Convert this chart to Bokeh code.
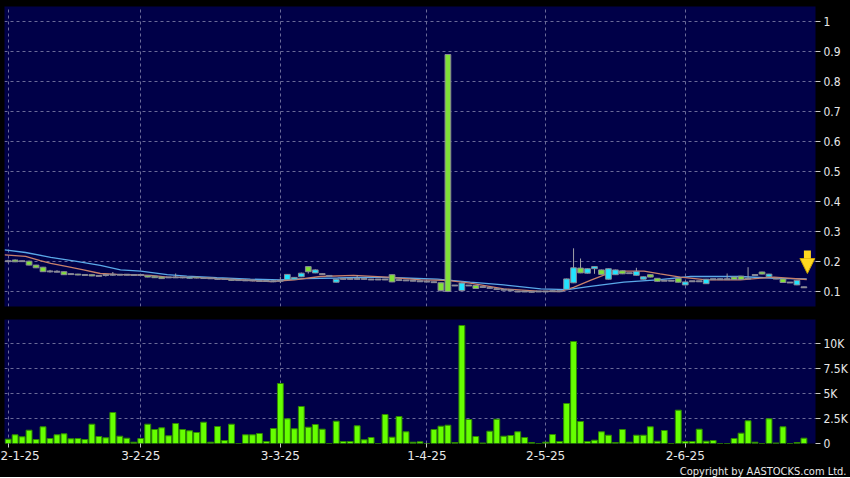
from bokeh.plotting import figure
from bokeh.layouts import column
from bokeh.models import (ColumnDataSource, FixedTicker, CustomJSTickFormatter,
                          Range1d, Title, Arrow, NormalHead)
from bokeh.embed import file_html
from bokeh.resources import INLINE

# ---------------- data ----------------
date_ticks = [0, 19, 39, 60, 77, 97]
date_labels = ["2-1-25", "3-2-25", "3-3-25", "1-4-25", "2-5-25", "2-6-25"]

opens = [.201,.205,.201,.201,.188,.181,.167,.166,.166,.158,.158,.155,.156,.152,.155,.156,.156,.156,.155,.155,
         .153,.151,.148,.147,.147,.147,.144,.148,.145,.144,.142,.142,.140,.138,.137,.137,.135,.135,.134,.136,
         .139,.141,.149,.183,.162,.158,.152,.131,.142,.142,.142,.142,.140,.140,.140,.156,.138,.137,.136,.134,
         .133,.131,.129,.890,.120,.103,.120,.120,.115,.112,.108,.106,.104,.100,.100,.099,.100,.100,.101,.101,
         .107,.129,.178,.161,.176,.172,.141,.156,.169,.161,.154,.141,.156,.144,.136,.136,.144,.122,.134,.134,
         .126,.141,.141,.141,.148,.151,.143,.155,.165,.149,.143,.142,.130,.122,.114]
highs = [.206,.207,.203,.203,.189,.182,.172,.171,.167,.160,.159,.156,.157,.153,.158,.165,.158,.157,.157,.156,
         .154,.152,.150,.148,.160,.148,.149,.149,.147,.145,.144,.143,.142,.139,.140,.138,.137,.136,.137,.148,
         .158,.148,.163,.184,.174,.160,.154,.142,.145,.144,.155,.143,.142,.141,.142,.157,.140,.138,.137,.135,
         .134,.133,.130,.890,.121,.130,.121,.121,.116,.114,.110,.107,.105,.102,.101,.100,.101,.101,.103,.102,
         .143,.244,.210,.177,.184,.173,.177,.173,.170,.162,.179,.150,.157,.145,.137,.137,.145,.133,.135,.135,
         .142,.142,.143,.160,.149,.152,.181,.156,.166,.159,.145,.143,.131,.138,.116]
lows = [.197,.198,.199,.187,.178,.165,.163,.164,.155,.156,.154,.154,.151,.151,.150,.152,.154,.154,.155,.154,
        .147,.145,.142,.145,.145,.144,.143,.144,.143,.143,.140,.141,.136,.137,.135,.134,.132,.134,.131,.128,
        .138,.140,.148,.160,.161,.156,.150,.130,.140,.140,.140,.140,.139,.139,.138,.131,.136,.135,.134,.133,
        .132,.130,.100,.098,.118,.102,.119,.109,.114,.110,.106,.104,.102,.098,.098,.097,.099,.099,.100,.100,
        .106,.128,.161,.160,.159,.157,.140,.155,.158,.160,.153,.140,.147,.133,.135,.135,.130,.121,.133,.133,
        .125,.140,.140,.140,.139,.139,.142,.154,.157,.148,.141,.129,.129,.121,.113]
closes = [.201,.199,.201,.188,.179,.166,.167,.166,.156,.158,.155,.155,.152,.152,.155,.156,.156,.156,.155,.155,
          .148,.146,.143,.147,.147,.147,.148,.145,.145,.144,.142,.142,.137,.138,.137,.137,.135,.135,.134,.136,
          .157,.147,.161,.166,.172,.158,.152,.141,.142,.142,.142,.142,.140,.140,.140,.132,.138,.137,.136,.134,
          .133,.131,.103,.100,.120,.128,.120,.110,.115,.112,.108,.106,.104,.100,.100,.099,.100,.100,.101,.101,
          .142,.179,.162,.176,.183,.157,.176,.172,.159,.161,.167,.149,.148,.134,.136,.136,.131,.132,.134,.134,
          .141,.141,.141,.141,.140,.140,.143,.155,.158,.158,.143,.130,.130,.137,.114]

volume_k = [0.43,0.87,0.67,1.33,0.4,1.67,0.5,0.87,0.97,0.47,0.5,0.4,1.93,0.7,0.57,3.1,0.73,0.53,0.13,0.5,
            1.93,1.4,1.57,0.77,2.0,1.4,1.27,1.1,2.13,0.13,1.7,0.3,1.93,0,0.87,0.87,1.0,0.2,1.5,6.0,
            2.47,1.47,3.7,1.63,1.9,1.43,0,2.23,0.2,0.2,1.77,0.37,0.6,0,2.9,0.63,2.7,1.17,0.13,0.17,
            0,1.4,1.73,1.83,0.1,11.8,2.4,0.7,0.05,1.23,2.43,0.73,0.8,1.17,0.6,0.1,0,0.13,0.9,0.2,
            4.0,10.2,2.2,0.2,0.33,1.17,0.83,0.1,1.4,0.13,0.83,0.83,1.67,0.23,1.3,0,3.33,0.2,0.2,1.43,
            0.23,0.3,0,0,0.5,1.03,2.27,0.13,0,2.47,0.05,1.67,0,0.1,0.53]

ma_fast_x = [-0.5,2.5,4.6,6.1,8.5,10.8,13.2,15.6,20.4,22.8,27.5,32.3,37.6,41,44.7,49.5,54.3,59.1,62.9,66.2,
             71,75.8,79.1,81,83.4,85.8,88.2,91.1,93.4,96.3,100.1,104.9,109.7,114.4]
ma_fast = [.222,.217,.203,.194,.183,.172,.160,.157,.154,.148,.146,.140,.133,.139,.150,.154,.148,.139,.137,.128,
           .109,.101,.100,.114,.137,.159,.168,.168,.159,.148,.139,.139,.148,.140]
ma_slow_x = [-0.5,2.5,6.1,9.6,13.2,16.1,19,22.8,25.6,29.9,34.7,39,42.4,47.2,52,56.7,61.5,66.2,71,76.3,
             80.1,83.4,88.2,93,97.8,104.9,109.7,114.4]
ma_slow = [.239,.230,.214,.201,.187,.172,.168,.156,.151,.146,.141,.139,.143,.145,.148,.145,.141,.131,.122,.109,
           .106,.117,.131,.139,.150,.150,.144,.142]

price_ticks = [0.1, 0.2, 0.3, 0.4, 0.5, 0.6, 0.7, 0.8, 0.9, 1.0]
vol_ticks = [0, 2500, 5000, 7500, 10000]
vol_labels = ["0", "2.5K", "5K", "7.5K", "10K"]

# ---------------- style ----------------
BG = "#000048"
GRID = "#6a6a98"
FONT = "DejaVu Sans"
NARROW = "'DejaVu Sans Condensed', 'Liberation Sans Narrow', 'DejaVu Sans'"
TXT = "#e8e8e8"
UP = "#22e4ff"
DOWN = "#80e038"
DOJI = "#a8a8b0"
WICK = "#a0a0a8"

n = len(closes)
idx = list(range(n))
doji = [abs(o - c) < 0.0005 for o, c in zip(opens, closes)]
body_fill = [DOJI if d else (UP if c > o else DOWN) for o, c, d in zip(opens, closes, doji)]
top = [max(o, c) + (0.0015 if d else 0) for o, c, d in zip(opens, closes, doji)]
bot = [min(o, c) - (0.0015 if d else 0) for o, c, d in zip(opens, closes, doji)]
src = ColumnDataSource(dict(x=idx, o=opens, h=highs, l=lows, c=closes, top=top, bot=bot,
                            fill=body_fill, vol=[v * 1000 for v in volume_k]))

XR = (-0.52, 115.66)

def style_common(p):
    p.outline_line_color = None
    p.ygrid.grid_line_color = GRID
    p.ygrid.grid_line_dash = "3 3"
    p.ygrid.grid_line_width = 1
    p.xgrid.grid_line_color = GRID
    p.xgrid.grid_line_dash = "3 3"
    p.xgrid.ticker = FixedTicker(ticks=date_ticks)
    for ax in p.yaxis:
        ax.axis_line_color = None
        ax.major_tick_line_color = "#c8c8c8"
        ax.major_tick_out = 5
        ax.major_tick_in = 0
        ax.minor_tick_line_color = None
        ax.major_label_text_color = TXT
        ax.major_label_text_font = NARROW
        ax.major_label_text_font_size = "12px"
        ax.major_label_standoff = 3

# ---------------- price panel ----------------
p = figure(frame_width=811, frame_height=300, x_range=Range1d(*XR), y_range=Range1d(0.05, 1.05),
           output_backend="svg", toolbar_location=None, background_fill_color=BG,
           border_fill_color="black", x_axis_location=None, y_axis_location="right",
           min_border_left=4, min_border_top=6, min_border_bottom=13, min_border_right=35)
style_common(p)
p.yaxis.ticker = FixedTicker(ticks=price_ticks)
p.yaxis.formatter = CustomJSTickFormatter(code="return tick.toFixed(1).replace(/\\.0$/, '');")

p.line(ma_slow_x, ma_slow, line_color="#5aa8e8", line_width=1.3)
p.line(ma_fast_x, ma_fast, line_color="#c8806a", line_width=1.3)
p.segment(x0="x", y0="l", x1="x", y1="h", source=src, line_color=WICK, line_width=1)
p.vbar(x="x", top="top", bottom="bot", width=0.82, source=src, fill_color="fill",
       line_color="#8a8a96", line_width=1)

last = n - 1
p.add_layout(Arrow(end=NormalHead(size=15, fill_color="#ffd820", line_color="#c8a000", line_width=1),
                   x_start=last + 0.5, y_start=closes[last] + 0.123, x_end=last + 0.5, y_end=closes[last] + 0.046,
                   line_color="#ffd820", line_width=7))

# ---------------- volume panel ----------------
v = figure(frame_width=811, frame_height=124, x_range=p.x_range, y_range=Range1d(0, 12400),
           output_backend="svg", toolbar_location=None, background_fill_color=BG,
           border_fill_color="black", y_axis_location="right",
           min_border_left=4, min_border_top=0, min_border_bottom=0, min_border_right=35)
style_common(v)
v.yaxis.ticker = FixedTicker(ticks=vol_ticks)
v.yaxis.major_label_overrides = {t: s for t, s in zip(vol_ticks, vol_labels)}
v.xaxis.ticker = FixedTicker(ticks=date_ticks)
v.xaxis.major_label_overrides = {t: s for t, s in zip(date_ticks, date_labels)}
v.xaxis.axis_line_color = None
v.xaxis.major_tick_line_color = "#c8c8c8"
v.xaxis.major_tick_out = 4
v.xaxis.major_tick_in = 0
v.xaxis.minor_tick_line_color = None
v.xaxis.major_label_text_color = TXT
v.xaxis.major_label_text_font = FONT
v.xaxis.major_label_text_font_size = "12px"
v.xaxis.major_label_standoff = 3
v.vbar(x="x", top="vol", bottom=0, width=0.84, source=src, fill_color="#66ff00",
       line_color="#2f8a00", line_width=1)
v.add_layout(Title(text="Copyright by AASTOCKS.com Ltd.", align="right", text_color=TXT,
                   text_font=NARROW, text_font_size="11px", text_font_style="normal",
                   standoff=0, offset=-31), "below")

layout = column(p, v, spacing=0, background="black")
open("out.html", "w").write(file_html(layout, INLINE))
